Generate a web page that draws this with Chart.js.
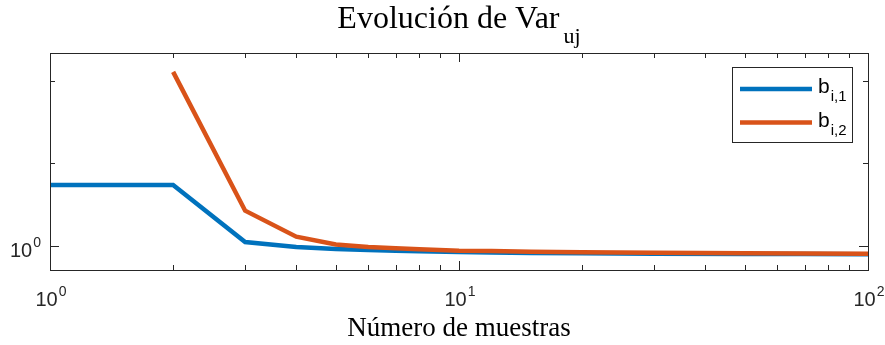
<!DOCTYPE html>
<html lang="es">
<head>
<meta charset="utf-8">
<title>Evolución de Var</title>
<script src="https://cdn.jsdelivr.net/npm/chart.js@4.4.1/dist/chart.umd.min.js"></script>
<style>
    html, body { margin: 0; padding: 0; background: #fff; }
    #wrap { width: 885px; height: 345px; position: relative; }
</style>
</head>
<body>
<div id="wrap"><canvas id="varChart"></canvas></div>
<script>
// Number of samples (x) and variance per coefficient
const sampleCounts = [1, 2, 3, 4, 5, 6, 7, 8, 10, 12, 15, 20, 30, 50, 70, 100];
const varB1 = [1.663, 1.663, 1.030, 0.987, 0.971, 0.963, 0.956, 0.952, 0.947, 0.943, 0.939, 0.937, 0.934, 0.932, 0.931, 0.930];
const varB2 = [null, 4.30, 1.340, 1.077, 1.008, 0.987, 0.977, 0.969, 0.957, 0.955, 0.948, 0.944, 0.940, 0.937, 0.936, 0.934];

// Series labels: base letter + subscript
const seriesNames = ['b', 'b'];
const seriesSubs = ['i,1', 'i,2'];
const seriesColors = ['#0072BD', '#D95319'];

// Axis ticks
const xMajorTicks = [1, 10, 100];
const xMajorExps = ['0', '1', '2'];
const xMinorTicks = [2, 3, 4, 5, 6, 7, 8, 9, 20, 30, 40, 50, 60, 70, 80, 90];
const yMajorTicks = [1];
const yMajorExps = ['0'];
const yMinorTicks = [2, 4];

const titleText = 'Evolución de Var';
const titleSub = 'uj';
const xLabelText = 'Número de muestras';

const SERIF = '"Liberation Serif", "Times New Roman", serif';
const SANS = '"Liberation Sans", Arial, sans-serif';
const AXIS_COLOR = '#262626';

function toPoints(xs, ys) {
    return xs.map((x, i) => ({ x: x, y: ys[i] }));
}

// "10" with a raised exponent, centred (or right-aligned) at x
function drawPow(ctx, exp, x, y, align) {
    ctx.font = '20px ' + SANS;
    const wBase = ctx.measureText('10').width;
    ctx.font = '14px ' + SANS;
    const wExp = ctx.measureText(exp).width;
    const total = wBase + 1 + wExp;
    let left = align === 'right' ? x - total : x - total / 2;
    ctx.textAlign = 'left';
    ctx.textBaseline = 'alphabetic';
    ctx.font = '20px ' + SANS;
    ctx.fillText('10', left, y);
    ctx.font = '14px ' + SANS;
    ctx.fillText(exp, left + wBase + 1, y - 10);
}

const matlabFrame = {
    id: 'matlabFrame',
    afterDraw(chart) {
        const ctx = chart.ctx;
        const area = chart.chartArea;
        const xs = chart.scales.x;
        const ys = chart.scales.y;
        ctx.save();

        // axes box
        ctx.strokeStyle = AXIS_COLOR;
        ctx.lineWidth = 1;
        ctx.strokeRect(Math.round(area.left) + 0.5, Math.round(area.top) + 0.5,
            Math.round(area.right - area.left), Math.round(area.bottom - area.top));

        // inward ticks on all four sides
        function xTick(v, len) {
            const px = Math.round(xs.getPixelForValue(v)) + 0.5;
            ctx.beginPath();
            ctx.moveTo(px, area.bottom); ctx.lineTo(px, area.bottom - len);
            ctx.moveTo(px, area.top); ctx.lineTo(px, area.top + len);
            ctx.stroke();
        }
        function yTick(v, len) {
            const py = Math.round(ys.getPixelForValue(v)) + 0.5;
            ctx.beginPath();
            ctx.moveTo(area.left, py); ctx.lineTo(area.left + len, py);
            ctx.moveTo(area.right, py); ctx.lineTo(area.right - len, py);
            ctx.stroke();
        }
        xMajorTicks.forEach(v => xTick(v, 9));
        xMinorTicks.forEach(v => xTick(v, 5));
        yMajorTicks.forEach(v => yTick(v, 9));
        yMinorTicks.forEach(v => yTick(v, 5));

        // tick labels
        ctx.fillStyle = AXIS_COLOR;
        xMajorTicks.forEach((v, i) => {
            drawPow(ctx, xMajorExps[i], xs.getPixelForValue(v) + 1, area.bottom + 36, 'center');
        });
        yMajorTicks.forEach((v, i) => {
            drawPow(ctx, yMajorExps[i], area.left - 9, ys.getPixelForValue(v) + 11, 'right');
        });

        // x axis label
        ctx.fillStyle = '#000';
        ctx.font = '27px ' + SERIF;
        ctx.textAlign = 'center';
        ctx.textBaseline = 'alphabetic';
        ctx.fillText(xLabelText, (area.left + area.right) / 2, 336);

        // title with subscript
        ctx.font = '32px ' + SERIF;
        const wMain = ctx.measureText(titleText).width;
        ctx.font = '22px ' + SERIF;
        const wSub = ctx.measureText(titleSub).width;
        const tLeft = (area.left + area.right) / 2 - (wMain + 4 + wSub) / 2;
        ctx.textAlign = 'left';
        ctx.font = '32px ' + SERIF;
        ctx.fillText(titleText, tLeft, 28);
        ctx.font = '22px ' + SERIF;
        ctx.fillText(titleSub, tLeft + wMain + 4, 43);

        // legend box
        const lx = 732.5, ly = 67.5, lw = 120, lh = 75;
        ctx.fillStyle = '#fff';
        ctx.fillRect(lx, ly, lw, lh);
        ctx.strokeStyle = AXIS_COLOR;
        ctx.strokeRect(lx, ly, lw, lh);
        chart.data.datasets.forEach((ds, i) => {
            const rowY = 89 + i * 33.5;
            ctx.strokeStyle = ds.borderColor;
            ctx.lineWidth = ds.borderWidth;
            ctx.beginPath();
            ctx.moveTo(740, rowY);
            ctx.lineTo(812, rowY);
            ctx.stroke();
            ctx.fillStyle = '#000';
            ctx.font = '21px ' + SANS;
            ctx.fillText(seriesNames[i], 818, rowY + 4);
            const wb = ctx.measureText(seriesNames[i]).width;
            ctx.font = '15px ' + SANS;
            ctx.fillText(seriesSubs[i], 818 + wb + 1, rowY + 12);
        });

        ctx.restore();
    }
};

const chart = new Chart(document.getElementById('varChart'), {
    type: 'line',
    data: {
        datasets: [
            {
                label: 'b_{i,1}',
                data: toPoints(sampleCounts, varB1),
                borderColor: seriesColors[0],
                borderWidth: 4.5,
                pointRadius: 0,
                tension: 0,
                fill: false,
                order: 1
            },
            {
                label: 'b_{i,2}',
                data: toPoints(sampleCounts, varB2),
                borderColor: seriesColors[1],
                borderWidth: 4.5,
                pointRadius: 0,
                tension: 0,
                fill: false,
                spanGaps: false,
                order: 0
            }
        ]
    },
    options: {
        responsive: true,
        maintainAspectRatio: false,
        animation: false,
        devicePixelRatio: 1,
        layout: {
            padding: { left: 50, right: 17, top: 53, bottom: 75 }
        },
        plugins: {
            legend: { display: false },
            tooltip: { enabled: false },
            title: { display: false }
        },
        scales: {
            x: {
                type: 'logarithmic',
                min: 1,
                max: 100,
                display: false
            },
            y: {
                type: 'logarithmic',
                min: 0.814,
                max: 5.04,
                display: false
            }
        }
    },
    plugins: [matlabFrame]
});
</script>
</body>
</html>
